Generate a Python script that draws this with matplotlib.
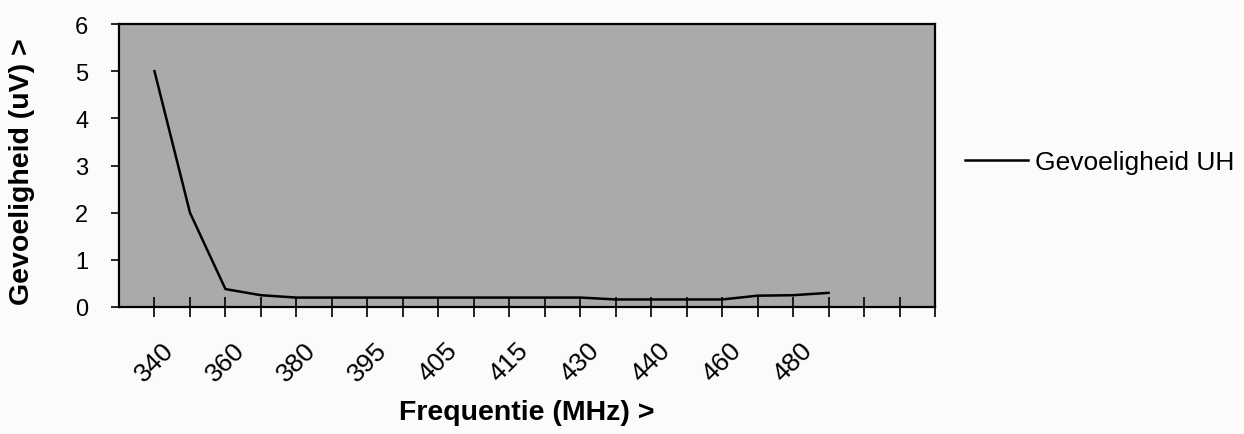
import numpy as np
import matplotlib
matplotlib.use("Agg")
import matplotlib.pyplot as plt

# gegevens
freqs = ['340', '350', '360', '370', '380', '390', '395', '400', '405', '410',
         '415', '420', '430', '435', '440', '450', '460', '470', '480', '490']
gevoeligheid = [5.0, 2.0, 0.38, 0.25, 0.2, 0.2, 0.2, 0.2, 0.2, 0.2,
                0.2, 0.2, 0.2, 0.16, 0.16, 0.16, 0.16, 0.24, 0.25, 0.3]
extra_cats = 3          # lege categorieen rechts op de as
yticks = [0, 1, 2, 3, 4, 5, 6]

plt.rcParams['font.family'] = ['Liberation Sans', 'DejaVu Sans']

W, H = 1244, 435
fig = plt.figure(figsize=(W / 100, H / 100), dpi=100, facecolor='#fbfbfb')
ax = fig.add_axes([119 / W, 1 - 308 / H, (935 - 119) / W, (308 - 25) / H])
ax.set_facecolor('#aaaaaa')

x = np.arange(len(freqs))
ax.plot(x, gevoeligheid, color='black', lw=1.8, label='Gevoeligheid UH')

# x-as: een streepje per categorie, label bij elke tweede
ticks = np.arange(len(freqs) + extra_cats)
labels = [freqs[i] if (i < len(freqs) and i % 2 == 0) else '' for i in ticks]
ax.set_xticks(ticks)
ax.set_xticklabels(labels, rotation=45, ha='center', fontsize=19)
ax.set_xlim(-1, len(freqs) + extra_cats - 1)
ax.tick_params(axis='x', direction='inout', length=14, width=1.2, pad=15)

ax.set_ylim(0, 6)
ax.set_yticks(yticks)
ax.tick_params(axis='y', direction='out', length=6, width=1.2, pad=16, labelsize=17)

for s in ax.spines.values():
    s.set_color('black')
    s.set_linewidth(1.6)

ax.set_ylabel('Gevoeligheid (uV) >', fontsize=20.5, fontweight='bold')
ax.yaxis.set_label_coords((35 - 119) / 816, (308 - 172) / 283)
ax.set_xlabel('Frequentie (MHz) >', fontsize=20.5, fontweight='bold')
ax.xaxis.set_label_coords(0.5, -(400 - 308) / 283)

ax.legend(loc='center left', bbox_to_anchor=(965 / W, 1 - 163 / H),
          bbox_transform=fig.transFigure, frameon=False, fontsize=19,
          handlelength=2.4, handletextpad=0.25, borderpad=0, borderaxespad=0)

fig.savefig('out.png', dpi=100, facecolor=fig.get_facecolor())
